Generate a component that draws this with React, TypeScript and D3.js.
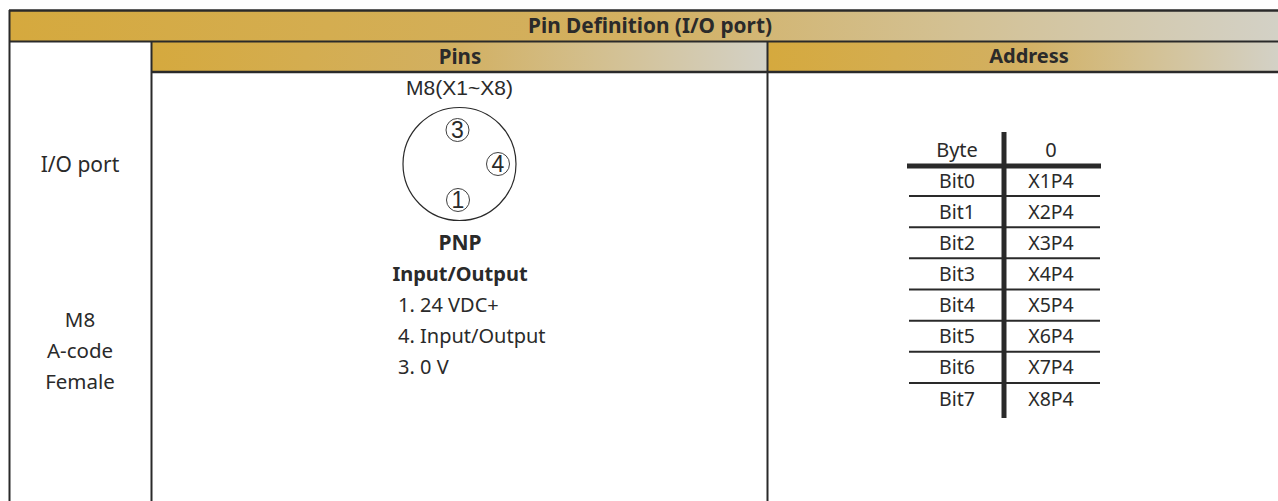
import React from "react";
import * as d3 from "d3";

const title = "Pin Definition (I/O port)";
const colHeaders = ["Pins", "Address"];
const leftLabels = ["I/O port", "M8", "A-code", "Female"];
const pinTexts = ["PNP", "Input/Output", "1. 24 VDC+", "4. Input/Output", "3. 0 V"];
const pinBold = [true, true, false, false, false];
const pins = ["3", "4", "1"];
const bits = ["Bit0", "Bit1", "Bit2", "Bit3", "Bit4", "Bit5", "Bit6", "Bit7"];
const addrs = ["X1P4", "X2P4", "X3P4", "X4P4", "X5P4", "X6P4", "X7P4", "X8P4"];

const font = "'Noto Sans', 'Open Sans', sans-serif";
const ink = "#2a2a2a";
const rowY = d3.scaleLinear().domain([0, 7]).range([180, 398]);
const lineY = d3.scaleLinear().domain([0, 6]).range([196, 383]);
const pinTextY = d3.scaleLinear().domain([0, 4]).range([242, 366]);
const pinPos: Record<string, [number, number]> = { "3": [457.5, 130], "4": [498, 164], "1": [458, 200] };

function Grad({ id }: { id: string }) {
  const stops = d3.range(0, 1.01, 0.25);
  const col = d3.scaleLinear<string>().domain([0, 0.5, 1]).range(["#d5a93e", "#d2b062", "#d3d1c6"]);
  return (
    <linearGradient id={id} x1="0" x2="1" y1="0" y2="0">
      {stops.map((s) => <stop key={s} offset={s} stopColor={col(s)} />)}
    </linearGradient>
  );
}

export default function App() {
  const t = (x: number, y: number, s: string, size: number, bold = false, anchor = "middle") => (
    <text key={s + x + y} x={x} y={y} fontSize={size} fontWeight={bold ? 700 : 400} textAnchor={anchor}
      dominantBaseline="central" fill={ink} fontFamily={font}>{s}</text>
  );
  return (
    <svg width={1278} height={501} style={{ position: "absolute", left: 0, top: 0, background: "#fff" }}>
      <defs><Grad id="g1" /><Grad id="g2" /><Grad id="g3" /></defs>
      <rect x={10} y={11} width={1268} height={30} fill="url(#g1)" />
      <rect x={152} y={42} width={615} height={29} fill="url(#g2)" />
      <rect x={768} y={42} width={510} height={29} fill="url(#g3)" />
      <g stroke={ink} fill="none">
        <line x1={9} x2={1278} y1={10.5} y2={10.5} strokeWidth={2.4} />
        <line x1={9} x2={1278} y1={41.5} y2={41.5} strokeWidth={2.2} />
        <line x1={151} x2={1278} y1={72} y2={72} strokeWidth={2.4} />
        <line x1={9.5} x2={9.5} y1={10} y2={501} strokeWidth={2} />
        <line x1={151.5} x2={151.5} y1={41} y2={501} strokeWidth={2} />
        <line x1={767.5} x2={767.5} y1={41} y2={501} strokeWidth={2} />
      </g>
      {t(650, 25, title, 20.8, true)}
      {t(460, 55.5, colHeaders[0], 20.5, true)}
      {t(1029, 55.5, colHeaders[1], 20, true)}
      {t(80, 164, leftLabels[0], 21)}
      {t(80, 319, leftLabels[1], 20.5)}
      {t(80, 350, leftLabels[2], 20.5)}
      {t(80, 381, leftLabels[3], 20.5)}
      <text x={459.5} y={87} fontSize={21} textAnchor="middle" dominantBaseline="central" fill={ink}
        fontFamily="'Liberation Sans', Arial, sans-serif">M8(X1~X8)</text>
      <circle cx={459.5} cy={164} r={56.5} fill="none" stroke={ink} strokeWidth={1.2} />
      {pins.map((p) => (
        <g key={p}>
          <circle cx={pinPos[p][0]} cy={pinPos[p][1]} r={11.5} fill="none" stroke={ink} strokeWidth={0.9} />
          <text x={pinPos[p][0]} y={pinPos[p][1]} fontSize={23} textAnchor="middle" dominantBaseline="central"
            fill={ink} fontFamily="'Liberation Sans', Arial, sans-serif">{p}</text>
        </g>
      ))}
      {pinTexts.map((s, i) =>
        pinBold[i] ? t(460, pinTextY(i), s, i === 0 ? 21 : 20, true) : t(398, pinTextY(i), s, 20, false, "start")
      )}
      <g stroke={ink}>
        <line x1={1004} x2={1004} y1={132} y2={418} strokeWidth={5} />
        <line x1={907} x2={1101} y1={166} y2={166} strokeWidth={5} />
        {d3.range(7).map((i) => (
          <line key={i} x1={909} x2={1100} y1={lineY(i)} y2={lineY(i)} strokeWidth={2} />
        ))}
      </g>
      {t(957, 149, "Byte", 20)}
      {t(1051, 149, "0", 20)}
      {bits.map((b, i) => t(957, rowY(i), b, 19.5))}
      {addrs.map((a, i) => t(1051, rowY(i), a, 19.5))}
    </svg>
  );
}
